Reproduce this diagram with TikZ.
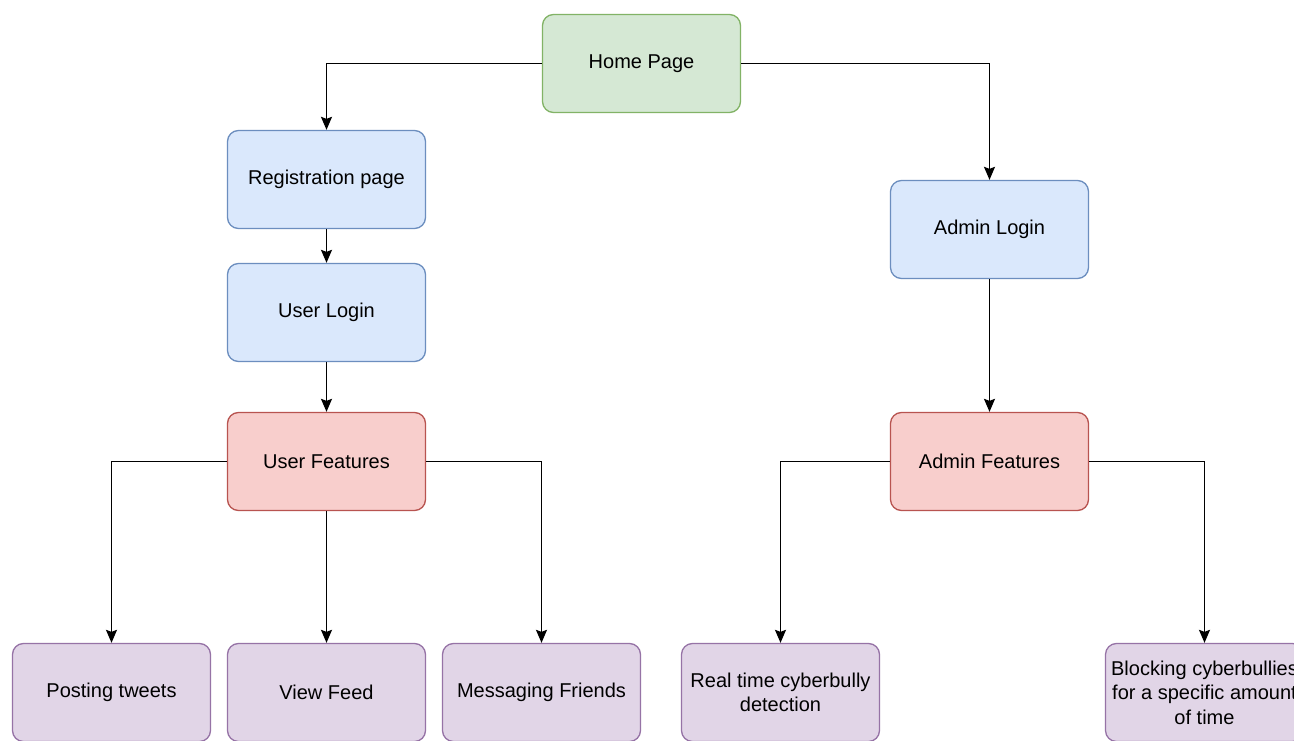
\documentclass[tikz,border=0pt]{standalone}
\usepackage{fontspec}
\setmainfont{Liberation Sans}
\usetikzlibrary{arrows.meta}
\definecolor{gfill}{HTML}{D5E8D4}\definecolor{gdraw}{HTML}{82B366}
\definecolor{bfill}{HTML}{DAE8FC}\definecolor{bdraw}{HTML}{6C8EBF}
\definecolor{rfill}{HTML}{F8CECC}\definecolor{rdraw}{HTML}{B85450}
\definecolor{pfill}{HTML}{E1D5E7}\definecolor{pdraw}{HTML}{9673A6}
\tikzset{
  box/.style={rectangle, rounded corners=11pt, line width=1.3pt, inner sep=0pt,
    minimum width=198pt, minimum height=98pt, align=center,
    font=\fontsize{20}{24.5}\selectfont},
  gbox/.style={box, fill=gfill, draw=gdraw},
  bbox/.style={box, fill=bfill, draw=bdraw},
  rbox/.style={box, fill=rfill, draw=rdraw},
  pbox/.style={box, fill=pfill, draw=pdraw},
  arr/.style={line width=1.6pt, -{Stealth[length=13pt,width=11pt,inset=2pt]}}
}
\begin{document}
\begin{tikzpicture}[x=1pt,y=-1pt]
\useasboundingbox (0,0) rectangle (1294,741);
\clip (0,0) rectangle (1294,741);
\fill[white] (0,0) rectangle (1294,741);
\node[gbox] (home) at (641.5,63.5) {Home Page};
\node[bbox] (reg) at (326.5,179.5) {Registration page};
\node[bbox] (ulogin) at (326.5,312.5) {User Login};
\node[rbox] (ufeat) at (326.5,461.5) {User Features};
\node[bbox] (alogin) at (989.5,229.5) {Admin Login};
\node[rbox] (afeat) at (989.5,461.5) {Admin Features};
\node[pbox] (post) at (111.5,692.5) {Posting tweets};
\node[pbox] (feed) at (326.5,692.5) {View Feed};
\node[pbox] (msg) at (541.5,692.5) {Messaging Friends};
\node[pbox] (real) at (780.5,692.5) {Real time cyberbully\\detection};
\node[pbox] (block) at (1204.5,692.5) {Blocking cyberbullies\\for a specific amount\\of time};
\draw[arr] (home.west) -| (reg.north);
\draw[arr] (home.east) -| (alogin.north);
\draw[arr] (reg.south) -- (ulogin.north);
\draw[arr] (ulogin.south) -- (ufeat.north);
\draw[arr] (ufeat.west) -| (post.north);
\draw[arr] (ufeat.south) -- (feed.north);
\draw[arr] (ufeat.east) -| (msg.north);
\draw[arr] (alogin.south) -- (afeat.north);
\draw[arr] (afeat.west) -| (real.north);
\draw[arr] (afeat.east) -| (block.north);
\end{tikzpicture}
\end{document}
